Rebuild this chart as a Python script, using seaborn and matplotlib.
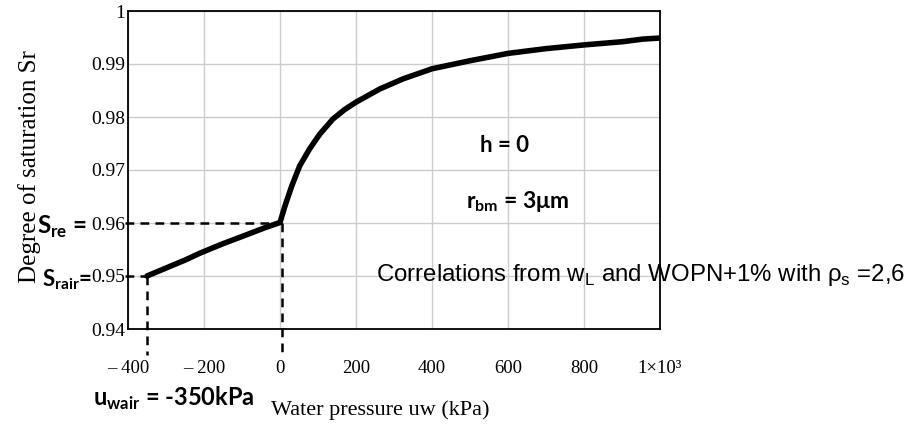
import matplotlib
matplotlib.use("Agg")
import matplotlib.pyplot as plt
import seaborn as sns
import pandas as pd

# Degree of saturation curve vs. water pressure
uw = [-350, -300, -250, -211, -150, -124, -80, -40, -8, 0, 13, 31, 52, 78, 105,
      139, 170, 200, 263, 324, 400, 499, 600, 700, 800, 900, 955, 1000]
sr = [0.9500, 0.9515, 0.9530, 0.9543, 0.9561, 0.9568, 0.9580, 0.9591, 0.9599, 0.9601,
      0.9632, 0.9670, 0.9708, 0.9740, 0.9768, 0.9796, 0.9814, 0.9828, 0.9853, 0.9872,
      0.9891, 0.9906, 0.9920, 0.9929, 0.9936, 0.9942, 0.9947, 0.9949]

x_ticks = [-400, -200, 0, 200, 400, 600, 800, 1000]
x_tick_labels = ["\u2013 400", "\u2013 200", "0", "200", "400", "600", "800", "1\u00d710\u00b3"]
y_ticks = [0.94, 0.95, 0.96, 0.97, 0.98, 0.99, 1.0]
y_tick_labels = ["0.94", "0.95", "0.96", "0.97", "0.98", "0.99", "1"]

# reference levels
uw_air = -350
sr_air = 0.95
uw_e = 5
sr_e = 0.96

sns.set_theme(style="white")
plt.rcParams["font.family"] = ["Liberation Serif", "DejaVu Serif"]
plt.rcParams["mathtext.fontset"] = "custom"
plt.rcParams["mathtext.rm"] = "Liberation Sans"
plt.rcParams["mathtext.bf"] = "Lato:bold"
for key in ("text.color", "xtick.color", "ytick.color", "axes.labelcolor"):
    plt.rcParams[key] = "black"

df = pd.DataFrame({"uw": uw, "sr": sr})

fig = plt.figure(figsize=(9.17, 4.26), dpi=100)
ax = fig.add_axes([128 / 917, 1 - 329 / 426, 532 / 917, 318 / 426])

ax.grid(True, color="#cccccc", linewidth=1.0)
ax.set_axisbelow(True)

sns.lineplot(data=df, x="uw", y="sr", sort=False, estimator=None, ax=ax,
             color="black", linewidth=4.0, solid_capstyle="round",
             solid_joinstyle="round", zorder=5)

dash = dict(color="black", linewidth=1.8, linestyle=(0, (3.5, 2.5)), clip_on=False, zorder=4)
ax.plot([-407, uw_e], [sr_e, sr_e], **dash)
ax.plot([uw_e, uw_e], [sr_e, 0.9351], **dash)
ax.plot([-407, uw_air], [sr_air, sr_air], **dash)
ax.plot([uw_air, uw_air], [sr_air, 0.9351], **dash)

ax.set_xlim(-400, 1000)
ax.set_ylim(0.94, 1.0)
ax.set_xticks(x_ticks)
ax.set_xticklabels(x_tick_labels, fontsize=13.5)
ax.set_yticks(y_ticks)
ax.set_yticklabels(y_tick_labels, fontsize=14)
ax.tick_params(axis="x", length=0, pad=22)
ax.tick_params(axis="y", length=0, pad=2)
for s in ax.spines.values():
    s.set_color("black")
    s.set_linewidth(1.3)
    s.set_visible(True)
ax.set_xlabel("")
ax.set_ylabel("")

fig.text(30 / 917, 1 - 167 / 426, "Degree of saturation Sr", rotation=90,
         ha="center", va="center", fontsize=18)
fig.text(380 / 917, 1 - 410 / 426, "Water pressure uw (kPa)",
         ha="center", va="center", fontsize=16)

bold = dict(family=["Lato", "DejaVu Sans"], fontweight="bold", va="center")
fig.text(37 / 917, 1 - 227 / 426, r"S$_{\mathbf{re}}$ =", fontsize=17.5, ha="left", **bold)
fig.text(42 / 917, 1 - 280 / 426, r"S$_{\mathbf{rair}}$=", fontsize=16, ha="left", **bold)
fig.text(93 / 917, 1 - 398 / 426, r"u$_{\mathbf{wair}}$ = -350kPa", fontsize=17, ha="left", **bold)
fig.text(505 / 917, 1 - 146 / 426, "h = 0", fontsize=16, ha="center", **bold)
fig.text(518 / 917, 1 - 201 / 426, r"r$_{\mathbf{bm}}$ = 3" + "\u03bcm", fontsize=16.5, ha="center", **bold)

fig.text(905 / 917, 1 - 275 / 426,
         r"Correlations from w$_{\mathrm{L}}$ and WOPN+1% with " + "\u03c1" + r"$_{\mathrm{s}}$ =2,6",
         family=["Liberation Sans", "DejaVu Sans"], fontsize=17.3, ha="right", va="center")

fig.savefig("out.png", dpi=100)
